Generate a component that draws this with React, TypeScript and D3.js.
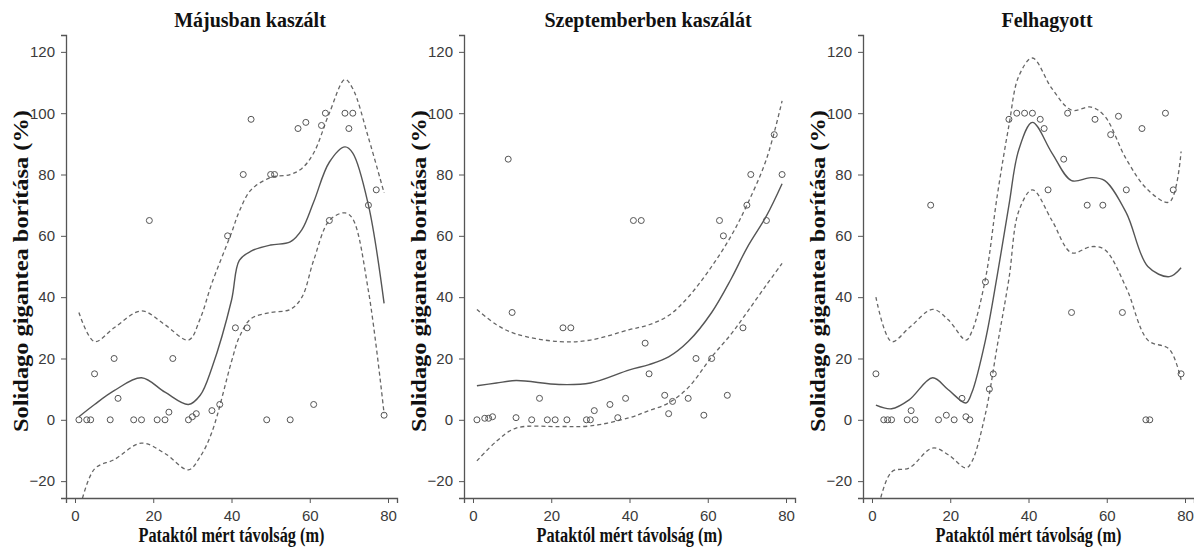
import React, { useRef, useEffect } from "react";
import * as d3 from "d3";

const WIDTH = 1194;
const HEIGHT = 560;

// distance from the stream (m) - same sample points in every treatment
const distances = [1, 3, 4, 5, 9, 10, 11, 15, 17, 19, 21, 23, 24, 25, 29, 30, 31, 35, 37, 39, 41, 43, 44, 45, 49, 50, 51, 55, 57, 59, 61, 63, 64, 65, 69, 70, 71, 75, 77, 79];

const titles = ["Májusban kaszált", "Szeptemberben kaszálát", "Felhagyott"];

// Solidago gigantea cover (%)
const mayCover = [0, 0, 0, 15, 0, 20, 7, 0, 0, 65, 0, 0, 2.5, 20, 0, 1, 2, 3, 5, 60, 30, 80, 30, 98, 0, 80, 80, 0, 95, 97, 5, 96, 100, 65, 100, 95, 100, 70, 75, 1.5];
const septCover = [0, 0.5, 0.5, 1, 85, 35, 0.7, 0, 7, 0, 0, 30, 0, 30, 0, 0, 3, 5, 0.7, 7, 65, 65, 25, 15, 8, 2, 6, 7, 20, 1.5, 20, 65, 60, 8, 30, 70, 80, 65, 93, 80];
const abandonedCover = [15, 0, 0, 0, 0, 3, 0, 70, 0, 1.5, 0, 7, 1, 0, 45, 10, 15, 98, 100, 100, 100, 98, 95, 75, 85, 100, 35, 70, 98, 70, 93, 99, 35, 75, 95, 0, 0, 100, 75, 15];

// smoothed fit + confidence band
const mayFitX = [1, 5, 10, 17, 23, 29, 32, 35, 40, 42, 45, 50, 55, 58, 61, 65, 69, 71, 75, 79];
const mayFit = [1, 5, 9.5, 13.7, 9, 5, 8, 17, 39, 52, 55, 57, 58, 62, 71, 84, 89, 87, 70, 38];
const mayUpper = [35, 25.5, 30, 35.5, 31, 26, 33, 44.6, 61, 68, 75, 79, 80, 82, 87, 100, 111, 108, 92, 74];
const mayLower = [-30, -16, -13, -7.6, -11, -16.3, -12, -4, 19, 27, 33, 35, 36, 40, 52, 65, 67.5, 65.5, 42, 2];

const septFitX = [1, 6, 11, 22, 30, 40, 45, 50, 55, 61, 66, 70, 75, 79];
const septFit = [11.1, 12, 12.8, 11.5, 12, 16.3, 18, 20.5, 25.5, 35, 46, 56, 66.5, 77];
const septUpper = [36, 31, 28, 25.5, 26, 29.4, 31, 34, 40, 50, 60, 70, 85, 104];
const septLower = [-13.4, -7, -2.7, -2.2, -2, 0.7, 3, 5.5, 10.5, 20.5, 28, 35, 44, 51];

const abandonedFitX = [1, 5, 9.5, 15.5, 19.5, 24, 25.5, 29, 32, 35, 37.5, 41, 46, 51, 56, 59.5, 65, 70.5, 76, 79];
const abandonedFit = [4.8, 3.6, 6.5, 13.7, 9.8, 5.5, 8.8, 26, 47, 70, 88, 97, 87, 78, 79, 78, 67.5, 50, 46.7, 49.6];
const abandonedUpper = [40, 25.5, 30, 36, 32.6, 26, 28.7, 46, 73, 96, 112, 118, 108, 101, 102, 99, 85, 75, 71, 87.5];
const abandonedLower = [-32, -17, -15.7, -9.2, -11.4, -15.7, -13.7, 2, 24, 46, 68, 75, 65, 54.5, 56.5, 55.5, 43, 26, 23, 13];

const xTicks = [0, 20, 40, 60, 80];
const yTicks = [-20, 0, 20, 40, 60, 80, 100, 120];

const panelOffsets = [0, 398, 797];

const AXIS_COLOR = "#555";
const TICK_FONT = "'Liberation Sans Narrow', 'Arial Narrow', 'Liberation Sans', Arial, sans-serif";
const SERIF = "'Liberation Serif', 'Times New Roman', serif";

function Panel({ idx, cover, fitX, fit, upper, lower }) {
    const xAxisRef = useRef(null);
    const yAxisRef = useRef(null);
    const ox = panelOffsets[idx];

    const xScale = d3.scaleLinear().domain([-2.3, 82.3]).range([ox + 66, ox + 397]);
    const yScale = d3.scaleLinear().domain([-25.5, 125.5]).range([498, 35]);

    useEffect(() => {
        const xAxis = d3.axisBottom(xScale).tickValues(xTicks).tickSizeOuter(0).tickSize(5).tickPadding(7);
        const gx = d3.select(xAxisRef.current);
        gx.call(xAxis);
        gx.select(".domain").attr("stroke", AXIS_COLOR).attr("stroke-width", 1.3);
        gx.selectAll(".tick line").attr("stroke", AXIS_COLOR);
        gx.selectAll(".tick text")
            .attr("fill", "#3a3a3a")
            .style("font-family", TICK_FONT)
            .style("font-size", "15px");

        const yAxis = d3.axisLeft(yScale).tickValues(yTicks).tickSizeOuter(0).tickSize(5).tickPadding(6);
        const gy = d3.select(yAxisRef.current);
        gy.call(yAxis);
        gy.select(".domain").attr("stroke", AXIS_COLOR).attr("stroke-width", 1.3);
        gy.selectAll(".tick line").attr("stroke", AXIS_COLOR);
        gy.selectAll(".tick text")
            .attr("fill", "#3a3a3a")
            .style("font-family", TICK_FONT)
            .style("font-size", "15px");
    }, [idx]);

    const line = d3.line()
        .x(d => xScale(d[0]))
        .y(d => yScale(d[1]))
        .curve(d3.curveCatmullRom.alpha(0.5));

    const pts = arr => fitX.map((x, i) => [x, arr[i]]);
    const clipId = `clip-${idx}`;

    return (
        <g>
            <defs>
                <clipPath id={clipId}>
                    <rect x={ox + 66} y={35} width={331} height={463} />
                </clipPath>
            </defs>
            <text
                x={ox + 250}
                y={27}
                textAnchor="middle"
                fontFamily={SERIF}
                fontWeight="bold"
                fontSize={20}
                fill="#111"
            >
                {titles[idx]}
            </text>
            <g clipPath={`url(#${clipId})`}>
                <path d={line(pts(fit))} fill="none" stroke="#555" strokeWidth={1.4} />
                <path d={line(pts(upper))} fill="none" stroke="#666" strokeWidth={1.3} strokeDasharray="4,3" />
                <path d={line(pts(lower))} fill="none" stroke="#666" strokeWidth={1.3} strokeDasharray="4,3" />
                {distances.map((d, i) => (
                    <circle
                        key={i}
                        cx={xScale(d)}
                        cy={yScale(cover[i])}
                        r={3}
                        fill="none"
                        stroke="#555"
                        strokeWidth={1}
                    />
                ))}
            </g>
            <g ref={xAxisRef} transform="translate(0,498)" />
            <g ref={yAxisRef} transform={`translate(${ox + 66},0)`} />
            <text
                x={xScale(40)}
                y={542}
                textAnchor="middle"
                fontFamily={SERIF}
                fontWeight="bold"
                fontSize={20}
                fill="#111"
                textLength={186}
                lengthAdjust="spacingAndGlyphs"
            >
                Pataktól mért távolság (m)
            </text>
            <text
                transform={`translate(${ox + 28},271) rotate(-90)`}
                textAnchor="middle"
                fontFamily={SERIF}
                fontWeight="bold"
                fontSize={20}
                fill="#111"
                textLength={322}
                lengthAdjust="spacingAndGlyphs"
            >
                Solidago gigantea borítása (%)
            </text>
        </g>
    );
}

export default function App() {
    return (
        <svg
            width={WIDTH}
            height={HEIGHT}
            style={{ position: "absolute", left: 0, top: 0, background: "#fff" }}
        >
            <Panel idx={0} cover={mayCover} fitX={mayFitX} fit={mayFit} upper={mayUpper} lower={mayLower} />
            <Panel idx={1} cover={septCover} fitX={septFitX} fit={septFit} upper={septUpper} lower={septLower} />
            <Panel idx={2} cover={abandonedCover} fitX={abandonedFitX} fit={abandonedFit} upper={abandonedUpper} lower={abandonedLower} />
        </svg>
    );
}
